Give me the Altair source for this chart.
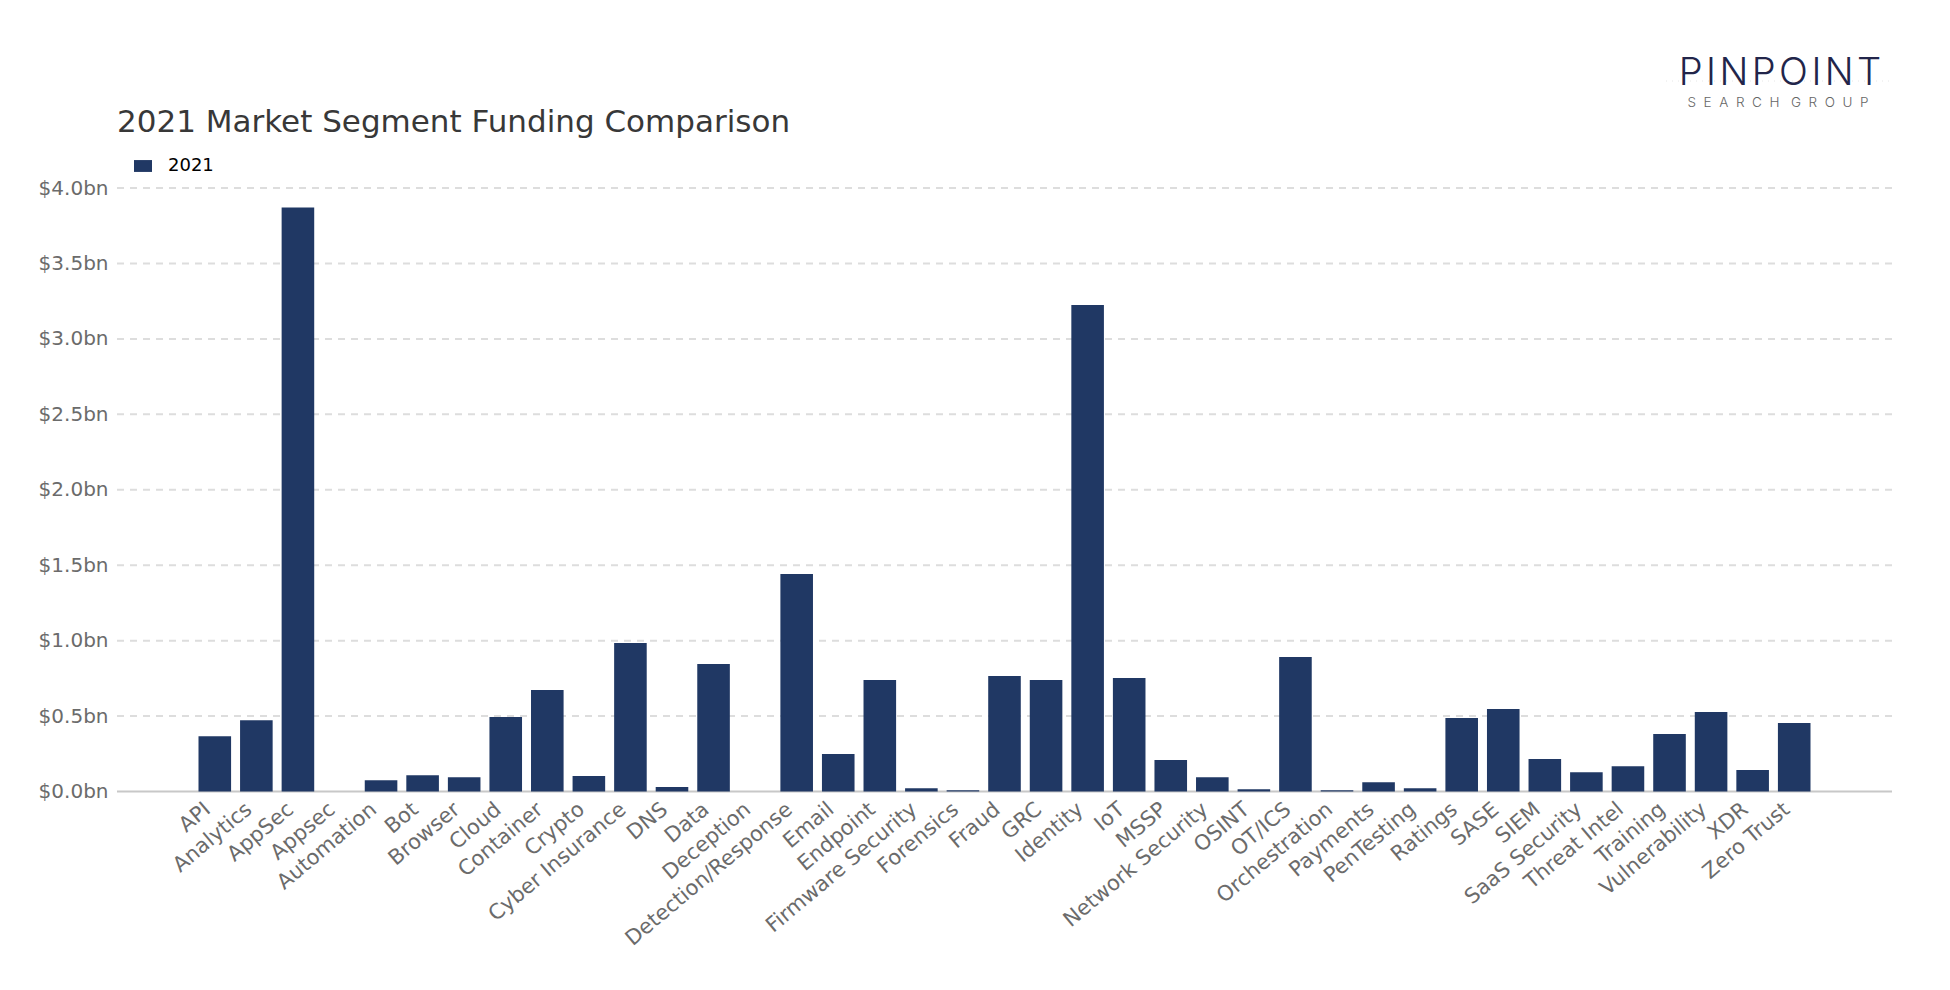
import altair as alt
import pandas as pd

categories = [
    "API", "Analytics", "AppSec", "Appsec", "Automation", "Bot", "Browser",
    "Cloud", "Container", "Crypto", "Cyber Insurance", "DNS", "Data",
    "Deception", "Detection/Response", "Email", "Endpoint",
    "Firmware Security", "Forensics", "Fraud", "GRC", "Identity", "IoT",
    "MSSP", "Network Security", "OSINT", "OT/ICS", "Orchestration",
    "Payments", "PenTesting", "Ratings", "SASE", "SIEM", "SaaS Security",
    "Threat Intel", "Training", "Vulnerability", "XDR", "Zero Trust",
]
funding_bn = [
    0.367, 0.473, 3.87, 0.0, 0.075, 0.108, 0.095,
    0.493, 0.673, 0.102, 0.985, 0.029, 0.845,
    0.0, 1.442, 0.248, 0.739,
    0.022, 0.009, 0.765, 0.739, 3.225, 0.752,
    0.208, 0.095, 0.015, 0.892, 0.009,
    0.062, 0.022, 0.487, 0.546, 0.215, 0.128,
    0.168, 0.381, 0.527, 0.142, 0.454,
]
series_name = "2021"
y_ticks = [0, 0.5, 1.0, 1.5, 2.0, 2.5, 3.0, 3.5, 4.0]
title_text = ["2021 Market Segment Funding Comparison"]
logo_main = ["P\u200aI\u200aN\u200aP\u200aO\u200aI\u200aN\u200aT"]
logo_sub = ["S\u00a0\u00a0E\u00a0\u00a0A\u00a0\u00a0R\u00a0\u00a0C\u00a0\u00a0H\u00a0\u00a0\u00a0G\u00a0\u00a0R\u00a0\u00a0O\u00a0\u00a0U\u00a0\u00a0P"]

df = pd.DataFrame({"Segment": categories, "Funding": funding_bn, "Series": series_name})
grid_df = pd.DataFrame({"v": [t for t in y_ticks if t > 0]})
base_df = pd.DataFrame({"v": [y_ticks[0]]})

W, H = 1775, 603.5
FONT = "DejaVu Sans"

y_scale = alt.Scale(domain=[0, 4], nice=False)
y_axis = alt.Axis(
    title=None, values=y_ticks,
    labelExpr="'$' + format(datum.value, '.1f') + 'bn'",
    labelFontSize=20, labelColor="#6b6b6b", labelFont=FONT,
    grid=False, domain=False, ticks=False, labelPadding=9,
)

grid = alt.Chart(grid_df).mark_rule(
    color="#dddddd", strokeWidth=2, strokeDash=[7, 6]
).encode(
    y=alt.Y("v:Q", scale=y_scale, axis=y_axis),
    x=alt.value(0), x2=alt.value(W),
)

baseline = alt.Chart(base_df).mark_rule(color="#c8c8c8", strokeWidth=2).encode(
    y=alt.Y("v:Q", scale=y_scale, axis=y_axis),
    x=alt.value(0), x2=alt.value(W),
)

bars = alt.Chart(df).mark_bar(color="#203864").encode(
    x=alt.X(
        "Segment:N",
        sort=categories,
        scale=alt.Scale(paddingInner=0.216, paddingOuter=0, range=[81.5, 1693.5]),
        axis=alt.Axis(
            title=None, labelAngle=-40, labelAlign="right", labelBaseline="middle",
            labelFontSize=21, labelColor="#6b6b6b", labelFont=FONT,
            ticks=False, domain=False, labelOffset=-7,
            labelPadding=15, grid=False, labelOverlap=False, labelLimit=0,
        ),
    ),
    y=alt.Y("Funding:Q", scale=y_scale, axis=y_axis),
    color=alt.Color(
        "Series:N",
        scale=alt.Scale(range=["#203864"]),
        legend=alt.Legend(
            title=None, orient="none", legendX=17, legendY=-31,
            symbolType="M-1,-0.66L1,-0.66L1,0.66L-1,0.66Z", symbolSize=324,
            symbolStrokeWidth=0, labelFontSize=18, labelColor="#000000",
            labelFont=FONT, labelOffset=16, padding=0,
        ),
    ),
)

title = alt.Chart(pd.DataFrame({"t": title_text})).mark_text(
    align="left", baseline="alphabetic", fontSize=31, font=FONT, color="#383838"
).encode(x=alt.value(0), y=alt.value(-56), text="t:N")

logo_line = alt.Chart(pd.DataFrame({"t": title_text})).mark_rule(
    color="#e6e6e6", strokeWidth=1, strokeDash=[1, 5]
).encode(x=alt.value(1549), x2=alt.value(1773), y=alt.value(-107))

logo1 = alt.Chart(pd.DataFrame({"t": logo_main})).mark_text(
    align="center", baseline="alphabetic", fontSize=38, font="Inter",
    fontWeight=300, color="#22254a"
).encode(x=alt.value(1663), y=alt.value(-103), text="t:N")

logo2 = alt.Chart(pd.DataFrame({"t": logo_sub})).mark_text(
    align="center", baseline="alphabetic", fontSize=13.5, font="Inter",
    fontWeight=300, color="#666666"
).encode(x=alt.value(1661), y=alt.value(-81), text="t:N")

chart = alt.layer(grid, baseline, bars, title, logo_line, logo1, logo2).properties(
    width=W, height=H,
    autosize=alt.AutoSizeParams(type="none"),
    padding={"left": 117, "top": 188, "right": 58, "bottom": 198.5},
    background="white",
).configure_view(stroke=None)

chart.save("out.html", embed_options={"renderer": "svg", "actions": False})
